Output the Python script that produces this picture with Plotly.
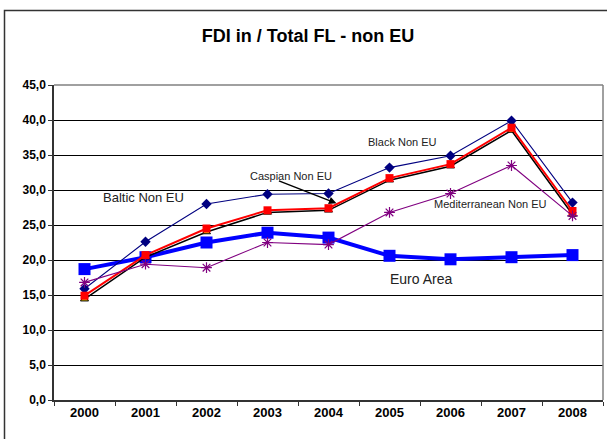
import plotly.graph_objects as go

years = ["2000", "2001", "2002", "2003", "2004", "2005", "2006", "2007", "2008"]

baltic = [14.4, 20.4, 24.0, 26.8, 27.1, 31.4, 33.4, 38.5, 26.5]
black_sea = [15.9, 22.6, 28.0, 29.4, 29.5, 33.2, 34.9, 39.9, 28.2]
caspian = [14.9, 20.7, 24.5, 27.1, 27.4, 31.7, 33.7, 38.9, 27.0]
mediterranean = [16.8, 19.4, 18.9, 22.5, 22.2, 26.8, 29.5, 33.5, 26.3]
euro_area = [18.7, 20.4, 22.5, 23.9, 23.2, 20.6, 20.1, 20.4, 20.7]

y_tick_vals = [0, 5, 10, 15, 20, 25, 30, 35, 40, 45]
y_tick_text = ["0,0", "5,0", "10,0", "15,0", "20,0", "25,0", "30,0", "35,0", "40,0", "45,0"]

FONT = "Liberation Sans, Arial, sans-serif"

fig = go.Figure()

fig.add_trace(go.Scatter(
    x=years, y=euro_area, name="Euro Area", mode="lines+markers",
    line=dict(color="#0000FF", width=4),
    marker=dict(symbol="square", size=12, color="#0000FF"),
))
fig.add_trace(go.Scatter(
    x=years, y=baltic, name="Baltic Non EU", mode="lines+markers",
    line=dict(color="#000000", width=1.5),
    marker=dict(symbol="triangle-up", size=7, color="#FFCC00",
                line=dict(color="#000000", width=1)),
))
fig.add_trace(go.Scatter(
    x=years, y=black_sea, name="Black Non EU", mode="lines+markers",
    line=dict(color="#000080", width=1.1),
    marker=dict(symbol="diamond", size=8, color="#000080"),
))
fig.add_trace(go.Scatter(
    x=years, y=caspian, name="Caspian Non EU", mode="lines+markers",
    line=dict(color="#FF0000", width=2),
    marker=dict(symbol="square", size=8, color="#FF0000"),
))
fig.add_trace(go.Scatter(
    x=years, y=mediterranean, name="Mediterranean Non EU", mode="lines+markers",
    line=dict(color="#800080", width=1.1),
    marker=dict(symbol="asterisk-open", size=9, color="#800080",
                line=dict(color="#800080", width=1.2)),
))

def lab(text, x, y, size=11):
    fig.add_annotation(x=x, y=y, text=text, showarrow=False,
                       font=dict(family=FONT, size=size, color="#222222"),
                       xanchor="center", yanchor="middle")

lab("Black Non EU", 5.22, 36.9)
lab("Mediterranean Non EU", 6.66, 28.0)
lab("Euro Area", 5.51, 17.3, size=14)
lab("Baltic Non EU", 0.96, 29.0, size=13)
lab("Caspian Non EU", 3.38, 32.0)

# arrow for Caspian label
fig.add_annotation(x=4.13, y=28.1, text="", showarrow=True,
                   ax=-59, ay=-23, arrowhead=2, arrowsize=1, arrowwidth=1.5,
                   arrowcolor="#000000")

# plot-area top/right border (grey)
fig.add_shape(type="line", xref="paper", yref="paper", x0=0, x1=1, y0=1, y1=1,
              line=dict(color="#808080", width=1.5), layer="above")
fig.add_shape(type="line", xref="paper", yref="paper", x0=1, x1=1, y0=0, y1=1,
              line=dict(color="#808080", width=1.5), layer="above")
# outer chart border
fig.add_shape(type="rect", xref="paper", yref="paper",
              x0=(4.5 - 54) / 549, x1=(612 - 54) / 549,
              y0=(400 - 445) / 315, y1=(400 - 10.5) / 315,
              line=dict(color="#333333", width=1.5), layer="above")

fig.update_layout(
    width=607, height=439,
    margin=dict(l=54, r=4, t=85, b=39),
    paper_bgcolor="white", plot_bgcolor="white",
    showlegend=False,
    title=dict(text="<b>FDI in / Total FL - non EU</b>", x=308 / 607, xanchor="center",
               y=1 - 36 / 439, yanchor="middle",
               font=dict(family=FONT, size=18, color="#000000")),
    xaxis=dict(type="category", range=[-0.5, 8.5], showgrid=False,
               showline=True, linecolor="#333333", linewidth=1.5,
               ticks="outside", tickson="boundaries", ticklen=4, tickcolor="#333333",
               tickfont=dict(family=FONT, size=13, color="#000000", weight="bold"),
               zeroline=False),
    yaxis=dict(range=[0, 45], tickvals=y_tick_vals, ticktext=y_tick_text,
               showgrid=True, gridcolor="#000000", gridwidth=1,
               showline=True, linecolor="#333333", linewidth=1.5,
               ticks="outside", ticklen=4, tickcolor="#333333",
               tickfont=dict(family=FONT, size=12, color="#000000", weight="bold"),
               zeroline=False),
)

fig.write_html("out.html", config={"displayModeBar": False},
               post_script="document.body.style.margin='0';document.body.style.overflow='hidden';")
